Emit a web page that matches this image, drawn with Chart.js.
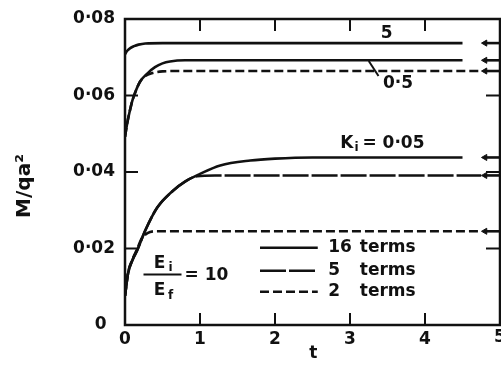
<!DOCTYPE html>
<html>
<head>
<meta charset="utf-8">
<script src="https://cdn.jsdelivr.net/npm/chart.js@4/dist/chart.umd.min.js"></script>
<style>
  html, body { margin: 0; padding: 0; background: #fff; }
  #wrap { width: 501px; height: 368px; }
</style>
</head>
<body>
<div id="wrap"><canvas id="chart" width="501" height="368"></canvas></div>
<script>
// values (t, M/qa^2)
const k5T       = [0, 0.03, 0.07, 0.12, 0.18, 0.27, 0.5, 1, 2, 3, 4, 4.5];
const k5Val     = [0.0708, 0.0717, 0.0724, 0.0729, 0.0733, 0.0736, 0.0737, 0.0737, 0.0737, 0.0737, 0.0737, 0.0737];

const k05T      = [0, 0.03, 0.06, 0.1, 0.15, 0.2, 0.3, 0.4, 0.5, 0.6, 0.8, 1, 2, 3, 4, 4.5];
const k05Val    = [0.0492, 0.0528, 0.0556, 0.0588, 0.0615, 0.0636, 0.0658, 0.0674, 0.0684, 0.0689, 0.0692, 0.0692, 0.0692, 0.0692, 0.0692, 0.0692];

const k05T2     = [0, 0.03, 0.06, 0.1, 0.15, 0.2, 0.27, 0.37, 0.5, 0.7, 1, 2, 3, 4, 4.73];
const k05Val2   = [0.0492, 0.0528, 0.0556, 0.0588, 0.0615, 0.0636, 0.0651, 0.0659, 0.0663, 0.0664, 0.0664, 0.0664, 0.0664, 0.0664, 0.0664];

const k005T16   = [0, 0.04, 0.1, 0.16, 0.27, 0.43, 0.64, 0.8, 1.0, 1.27, 1.67, 2.0, 2.5, 3, 4, 4.5];
const k005Val16 = [0.0076, 0.0134, 0.0170, 0.0194, 0.0247, 0.0307, 0.0351, 0.0375, 0.0395, 0.0417, 0.0430, 0.0435, 0.0438, 0.0438, 0.0438, 0.0438];

const k005T5    = [0, 0.04, 0.1, 0.16, 0.27, 0.43, 0.64, 0.8, 0.96, 1.2, 2, 3, 4, 4.75];
const k005Val5  = [0.0076, 0.0134, 0.0170, 0.0194, 0.0247, 0.0307, 0.0351, 0.0375, 0.0389, 0.0391, 0.0391, 0.0391, 0.0391, 0.0391];

const k005T2    = [0, 0.04, 0.1, 0.16, 0.22, 0.3, 0.4, 0.6, 1, 2, 3, 4, 4.73];
const k005Val2  = [0.0076, 0.0136, 0.0172, 0.0198, 0.0225, 0.0240, 0.0245, 0.0245, 0.0245, 0.0245, 0.0245, 0.0245, 0.0245];

// asymptotic values marked by arrows at the right edge
const limitT    = [4.8, 5];
const limitVals = [0.0737, 0.0692, 0.0664, 0.0438, 0.0391, 0.0245];

const xTickLabels = ['0', '1', '2', '3', '4', '5'];
const yTickLabels = ['0\u2002', '0·02', '0·04', '0·06', '0·08'];
const legendNames = ['16', '5', '2'];

const ink = '#111';
const FONT = '"DejaVu Sans", sans-serif';

function pts(ts, vs) {
    return ts.map((t, i) => ({ x: t, y: vs[i] }));
}

function curve(ts, vs, dash) {
    return {
        data: pts(ts, vs),
        showLine: true,
        borderColor: ink,
        borderWidth: 2.6,
        borderDash: dash,
        pointRadius: 0,
        cubicInterpolationMode: 'monotone',
        fill: false
    };
}

const solid = [];
const longDash = [26, 3];
const shortDash = [9, 4];

const datasets = [
    curve(k5T, k5Val, solid),
    curve(k05T, k05Val, solid),
    curve(k05T2, k05Val2, shortDash),
    curve(k005T16, k005Val16, solid),
    curve(k005T5, k005Val5, longDash),
    curve(k005T2, k005Val2, shortDash)
];

limitVals.forEach(v => {
    datasets.push({
        data: pts(limitT, [v, v]),
        showLine: true,
        borderColor: ink,
        borderWidth: 2.6,
        pointStyle: 'triangle',
        rotation: -90,
        pointRadius: [3.5, 0],
        pointBackgroundColor: ink,
        pointBorderColor: ink,
        pointBorderWidth: 1
    });
});

function line(ctx, x1, y1, x2, y2) {
    ctx.beginPath();
    ctx.moveTo(x1, y1);
    ctx.lineTo(x2, y2);
    ctx.stroke();
}

const framePlugin = {
    id: 'frame',
    afterDatasetsDraw(chart) {
        const { ctx, chartArea: a, scales: { x, y } } = chart;
        ctx.save();
        ctx.strokeStyle = ink;
        ctx.fillStyle = ink;

        // frame
        ctx.lineWidth = 2.5;
        ctx.strokeRect(a.left, a.top, a.right - a.left, a.bottom - a.top);

        // inward ticks
        ctx.lineWidth = 2;
        [1, 2, 3, 4].forEach(v => {
            const px = x.getPixelForValue(v);
            line(ctx, px, a.top, px, a.top + 12);
            line(ctx, px, a.bottom, px, a.bottom - 12);
        });
        [0.02, 0.04, 0.06].forEach(v => {
            const py = y.getPixelForValue(v);
            line(ctx, a.left, py, a.left + 13, py);
            line(ctx, a.right, py, a.right - 14, py);
        });

        ctx.font = 'bold 17px ' + FONT;
        ctx.textAlign = 'center';
        ctx.textBaseline = 'middle';

        // last x tick label sits on the canvas edge, half cut off
        ctx.fillText(xTickLabels[5], x.getPixelForValue(5), 338);

        // axis titles
        ctx.fillText('t', x.getPixelForValue(2.51), 354);
        ctx.save();
        ctx.translate(25, 186);
        ctx.rotate(-Math.PI / 2);
        ctx.font = 'bold 20px ' + FONT;
        ctx.fillText('M/qa²', 0, 0);
        ctx.restore();

        // curve labels
        ctx.fillText('5', x.getPixelForValue(3.49), y.getPixelForValue(0.0763));
        ctx.fillText('0·5', x.getPixelForValue(3.64), y.getPixelForValue(0.0632));
        ctx.lineWidth = 2;
        line(ctx, x.getPixelForValue(3.25), y.getPixelForValue(0.0690),
                  x.getPixelForValue(3.38), y.getPixelForValue(0.0651));

        // K_i = 0.05
        ctx.textAlign = 'left';
        let kx = x.getPixelForValue(2.87);
        const ky = y.getPixelForValue(0.0475);
        ctx.fillText('K', kx, ky);
        kx += ctx.measureText('K').width;
        ctx.font = 'bold 12px ' + FONT;
        ctx.fillText('i', kx + 1, ky + 5);
        ctx.font = 'bold 17px ' + FONT;
        ctx.fillText('= 0·05', kx + 9, ky);

        // E_i / E_f = 10
        const fx = x.getPixelForValue(0.5);
        const fy = y.getPixelForValue(0.0132);
        ctx.lineWidth = 2;
        line(ctx, fx - 19, fy, fx + 19, fy);
        ctx.textAlign = 'center';
        ctx.fillText('E', fx - 3, fy - 11);
        ctx.fillText('E', fx - 3, fy + 16);
        ctx.font = 'bold 12px ' + FONT;
        ctx.fillText('i', fx + 8, fy - 7);
        ctx.fillText('f', fx + 8, fy + 21);
        ctx.font = 'bold 17px ' + FONT;
        ctx.textAlign = 'left';
        ctx.fillText('= 10', fx + 22, fy + 1);

        // legend
        const styles = [solid, longDash, shortDash];
        const rows = [0.0202, 0.0142, 0.0087];
        const lx1 = x.getPixelForValue(1.8), lx2 = x.getPixelForValue(2.57);
        rows.forEach((r, i) => {
            const py = y.getPixelForValue(r);
            ctx.lineWidth = 2.4;
            ctx.setLineDash(styles[i]);
            line(ctx, lx1, py, lx2, py);
            ctx.setLineDash([]);
            ctx.fillText(legendNames[i], x.getPixelForValue(2.71), py);
            ctx.fillText('terms', x.getPixelForValue(3.13), py);
        });
        ctx.restore();
    }
};

new Chart(document.getElementById('chart'), {
    type: 'scatter',
    data: { datasets: datasets },
    options: {
        responsive: false,
        animation: false,
        devicePixelRatio: 1,
        layout: { autoPadding: false, padding: { left: 0, top: 19, right: 1, bottom: 0 } },
        plugins: {
            legend: { display: false },
            tooltip: { enabled: false }
        },
        scales: {
            x: {
                type: 'linear',
                min: 0,
                max: 5,
                afterFit(scale) {
                    scale.height = 43;
                    scale.paddingLeft = 0;
                    scale.paddingRight = 0;
                },
                afterBuildTicks(scale) {
                    scale.ticks = xTickLabels.map((s, i) => ({ value: i }));
                },
                grid: { display: false, drawTicks: false },
                border: { display: false },
                ticks: {
                    color: ink,
                    padding: 4,
                    maxRotation: 0,
                    autoSkip: false,
                    font: { family: FONT, size: 17, weight: 'bold' },
                    // the "5" is drawn by the plugin so it does not squeeze the plot
                    callback: (v, i) => (i < 5 ? xTickLabels[i] : '')
                }
            },
            y: {
                min: 0,
                max: 0.08,
                afterFit(scale) {
                    scale.width = 125;
                    scale.paddingTop = 0;
                    scale.paddingBottom = 0;
                },
                afterBuildTicks(scale) {
                    scale.ticks = yTickLabels.map((s, i) => ({ value: i * 0.02 }));
                },
                grid: { display: false, drawTicks: false },
                border: { display: false },
                ticks: {
                    color: ink,
                    padding: 10,
                    font: { family: FONT, size: 17, weight: 'bold' },
                    callback: (v, i) => yTickLabels[i]
                }
            }
        }
    },
    plugins: [framePlugin]
});
</script>
</body>
</html>
